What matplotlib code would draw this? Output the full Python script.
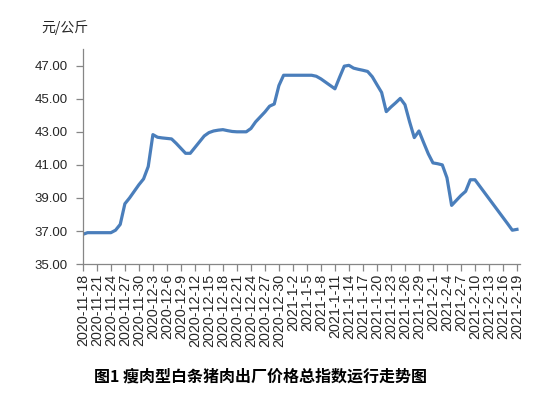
"""Lean-hog carcass ex-factory price index, daily, 2020-11-18 .. 2021-2-19."""

import datetime as dt

import matplotlib

matplotlib.use("Agg")
import matplotlib.pyplot as plt

plt.rcParams["font.family"] = ["Liberation Sans", "Noto Sans CJK SC", "DejaVu Sans"]

START = dt.date(2020, 11, 18)

# daily price, yuan/kg
price = [
    36.80, 36.90, 36.90, 36.90, 36.90, 36.90, 36.90, 37.05, 37.40, 38.65,
    39.00, 39.40, 39.80, 40.15, 40.90, 42.83, 42.67, 42.63, 42.60, 42.57,
    42.30, 42.00, 41.70, 41.70, 42.05, 42.40, 42.75, 42.95, 43.05, 43.10,
    43.13, 43.07, 43.02, 43.00, 43.00, 43.00, 43.20, 43.60, 43.90, 44.20,
    44.55, 44.68, 45.80, 46.42, 46.42, 46.42, 46.42, 46.42, 46.42, 46.42,
    46.36, 46.20, 46.00, 45.80, 45.60, 46.30, 46.97, 47.02, 46.85, 46.78,
    46.72, 46.65, 46.33, 45.85, 45.38, 44.22, 44.50, 44.75, 45.02, 44.64,
    43.60, 42.65, 43.05, 42.35, 41.67, 41.12, 41.07, 41.00, 40.22, 38.55,
    38.85, 39.15, 39.40, 40.10, 40.10, 39.72, 39.34, 38.96, 38.58, 38.20,
    37.82, 37.44, 37.05, 37.10,
]

dates = [START + dt.timedelta(days=i) for i in range(len(price))]
labels = [f"{d.year}-{d.month}-{d.day}" for d in dates]

y_ticks = [35, 37, 39, 41, 43, 45, 47]

fig = plt.figure(figsize=(5.6, 3.93), dpi=100)
ax = fig.add_axes([0.148, 0.328, 0.781, 0.547])

x = list(range(len(price)))
ax.plot(x, price, color="#4A7EBB", lw=2.3, solid_joinstyle="round")

ax.set_xlim(0, len(price) - 1 + 0.7)
ax.set_ylim(35, 48)
ax.set_xticks(x[::3])
ax.set_xticklabels(labels[::3], rotation=90, fontsize=10.3, color="#262626")
ax.set_yticks(y_ticks)
ax.set_yticklabels([f"{v:.2f}" for v in y_ticks], fontsize=9.5, color="#262626")

for side in ("top", "right"):
    ax.spines[side].set_visible(False)
for side in ("left", "bottom"):
    ax.spines[side].set_color("#868686")
    ax.spines[side].set_linewidth(0.9)
ax.tick_params(axis="both", direction="out", length=5, width=0.9, color="#868686")
ax.tick_params(axis="x", pad=2)
ax.tick_params(axis="y", pad=6)

fig.text(0.074, 0.93, "元/公斤", fontsize=10, color="#262626",
         family=["Noto Sans CJK SC", "DejaVu Sans"], va="center")
fig.text(0.465, 0.043, "图1 瘦肉型白条猪肉出厂价格总指数运行走势图", fontsize=11.5,
         fontweight="bold", ha="center", va="center",
         family=["Noto Sans CJK SC", "DejaVu Sans"])

fig.savefig("out.png", dpi=100)
